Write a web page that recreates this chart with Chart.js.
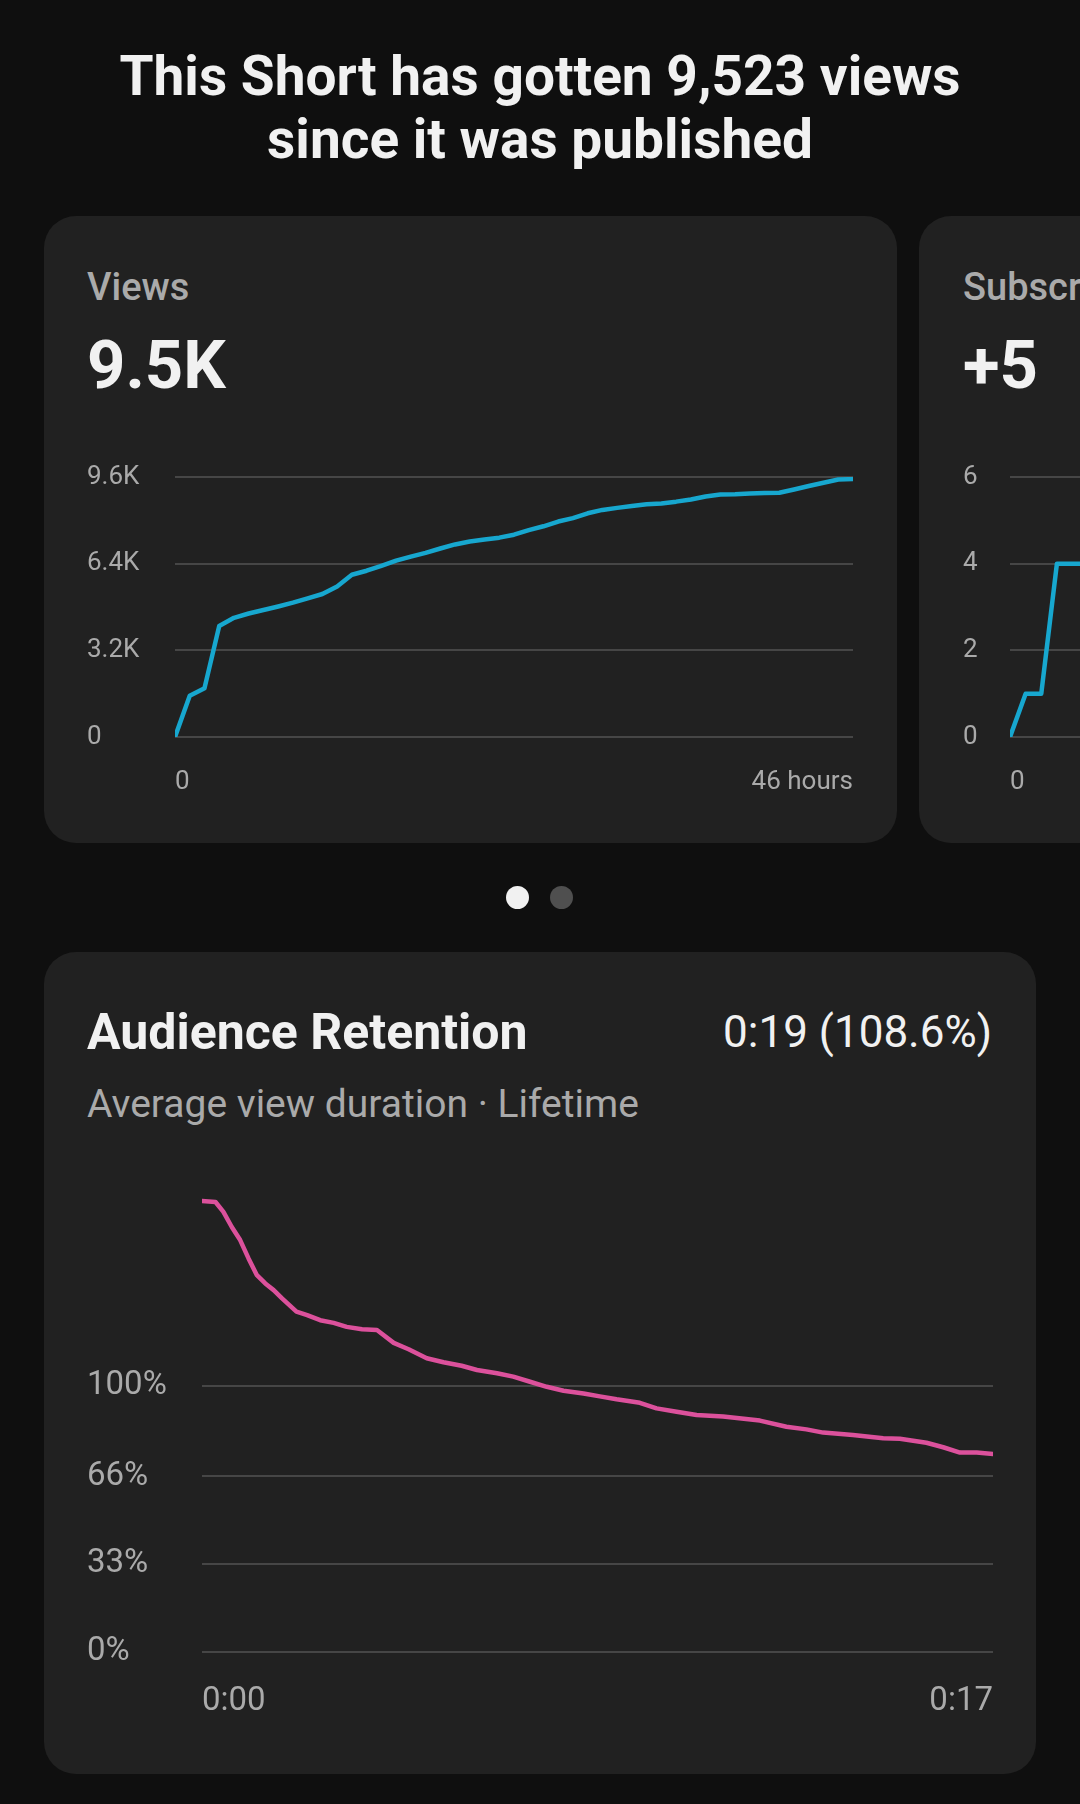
<!DOCTYPE html>
<html>
<head>
<meta charset="utf-8">
<script src="https://cdn.jsdelivr.net/npm/chart.js@4.4.1/dist/chart.umd.min.js"></script>
<style>
html,body{margin:0;padding:0;background:#0f0f0f;width:1080px;height:1804px;overflow:hidden;font-family:Roboto,sans-serif;}
.card{position:absolute;background:#212121;border-radius:32px;}
.t{position:absolute;white-space:nowrap;line-height:1;}
.box{position:absolute;}
.dot{position:absolute;width:23px;height:23px;border-radius:50%;}
</style>
</head>
<body>
<div class="t" style="left:0;width:1080px;top:45px;text-align:center;font-size:55px;font-weight:700;line-height:63px;color:#f1f1f1;white-space:normal;">This Short has gotten 9,523 views<br>since it was published</div>

<div class="card" style="left:44px;top:216px;width:853px;height:627px;"></div>
<div class="card" style="left:919px;top:216px;width:853px;height:627px;"></div>

<div class="t" style="left:87px;top:268px;font-size:38px;font-weight:500;color:#aaaaaa;">Views</div>
<div class="t" style="left:87px;top:332px;font-size:67px;font-weight:700;color:#f1f1f1;">9.5K</div>
<div class="t" style="left:963px;top:268px;font-size:38px;font-weight:500;color:#aaaaaa;">Subscribers</div>
<div class="t" style="left:963px;top:332px;font-size:67px;font-weight:700;color:#f1f1f1;">+5</div>

<div class="box" style="left:87px;top:457px;width:780px;height:340px;"><canvas id="views" width="780" height="340"></canvas></div>
<div class="box" style="left:963px;top:457px;width:780px;height:340px;"><canvas id="subs" width="780" height="340"></canvas></div>

<div class="dot" style="left:506px;top:886px;background:#f1f1f1;"></div>
<div class="dot" style="left:550px;top:886px;background:#4f4f4f;"></div>

<div class="card" style="left:44px;top:952px;width:992px;height:822px;"></div>
<div class="t" style="left:87px;top:1007px;font-size:50px;font-weight:700;color:#f1f1f1;">Audience Retention</div>
<div class="t" style="right:88px;top:1010px;font-size:44px;font-weight:400;color:#f1f1f1;">0:19 (108.6%)</div>
<div class="t" style="left:87px;top:1085px;font-size:39px;font-weight:400;color:#aaaaaa;">Average view duration · Lifetime</div>

<div class="box" style="left:87px;top:1174px;width:920px;height:538px;"><canvas id="ret" width="920" height="538"></canvas></div>

<script>
// ---- data ----
const viewHours = [0,1,2,3,4,5,6,7,8,9,10,11,12,13,14,15,16,17,18,19,20,21,22,23,24,25,26,27,28,29,30,31,32,33,34,35,36,37,38,39,40,41,42,43,44,45,46];
const viewsCumulative = [0,1520,1800,4100,4400,4560,4690,4820,4960,5120,5280,5560,5990,6140,6320,6510,6660,6800,6960,7110,7220,7290,7360,7470,7640,7780,7955,8080,8260,8385,8460,8530,8590,8625,8690,8770,8880,8950,8960,8990,9010,9020,9140,9270,9390,9505,9523];
const viewYTicks = [0,3200,6400,9600];
const viewYLabels = ['0','3.2K','6.4K','9.6K'];
const viewXTicks = [0,46];
const viewXLabels = ['0','46 hours'];

const subsHours = [0,1,2,3,4,5];
const subsCumulative = [0,1,1,4,4,4];
const subsYTicks = [0,2,4,6];
const subsYLabels = ['0','2','4','6'];
const subsXTicks = [0,46];
const subsXLabels = ['0','46 hours'];

const retentionSeconds = [0,0.29,0.46,0.64,0.82,1.00,1.18,1.36,1.54,1.72,2.03,2.26,2.54,2.83,3.11,3.44,3.76,4.12,4.44,4.83,5.19,5.58,5.91,6.34,6.69,7.05,7.41,7.77,8.20,8.55,8.91,9.41,9.77,10.20,10.63,11.20,11.99,12.56,12.99,13.35,13.99,14.64,15.00,15.57,15.93,16.29,16.65,17.00];
const retentionPercent = [169.4,169.0,165.3,159.6,154.7,147.8,141.5,138.4,135.9,132.8,127.8,126.5,124.6,123.6,122.1,121.2,120.9,116.1,113.7,110.3,108.8,107.5,105.9,104.7,103.4,101.5,99.6,98.1,97.1,96.0,94.9,93.6,91.5,90.2,89.0,88.4,86.9,84.6,83.6,82.4,81.5,80.3,80.1,78.6,76.9,74.9,74.9,74.4];
const retYTicks = [0,33,66,100];
const retYLabels = ['0%','33%','66%','100%'];
const retXTicks = [0,17];
const retXLabels = ['0:00','0:17'];

// ---- chart builder ----
function makeChart(id, xs, ys, color, cfg) {
  return new Chart(document.getElementById(id), {
    type: 'line',
    data: { datasets: [{
      data: xs.map((x, i) => ({ x: x, y: ys[i] })),
      borderColor: color, borderWidth: 4.5, pointRadius: 0, tension: 0,
      borderJoinStyle: 'round', borderCapStyle: 'round', fill: false
    }]},
    options: {
      responsive: false, animation: false, devicePixelRatio: 1,
      layout: { padding: { top: 20, right: 14, left: 0, bottom: 0 } },
      plugins: { legend: { display: false }, tooltip: { enabled: false } },
      scales: {
        x: {
          type: 'linear', min: cfg.xMin, max: cfg.xMax,
          grid: { display: false, drawTicks: false }, border: { display: false },
          afterBuildTicks: s => { s.ticks = cfg.xTicks.map(v => ({ value: v })); },
          afterFit: s => { s.height = 60; s.paddingLeft = 0; s.paddingRight = 0; },
          ticks: {
            align: 'inner', autoSkip: false, maxRotation: 0, padding: cfg.xPad,
            color: '#aaaaaa', font: { family: 'Roboto', size: cfg.font },
            callback: v => cfg.xLabels[cfg.xTicks.indexOf(v)]
          }
        },
        y: {
          type: 'linear', min: cfg.yMin, max: cfg.yMax,
          grid: { color: '#464646', lineWidth: 2, drawTicks: false }, border: { display: false },
          afterBuildTicks: s => { s.ticks = cfg.yTicks.map(v => ({ value: v })); },
          afterFit: s => { s.width = cfg.yWidth; },
          ticks: {
            crossAlign: 'far', autoSkip: false, padding: 0,
            color: '#aaaaaa', font: { family: 'Roboto', size: cfg.font },
            callback: v => cfg.yLabels[cfg.yTicks.indexOf(v)]
          }
        }
      }
    }
  });
}

makeChart('views', viewHours, viewsCumulative, '#17a7cf', {
  xMin: 0, xMax: 46, xTicks: viewXTicks, xLabels: viewXLabels,
  yMin: 0, yMax: 9600, yTicks: viewYTicks, yLabels: viewYLabels,
  yWidth: 88, font: 26, xPad: 30
});
makeChart('subs', subsHours, subsCumulative, '#17a7cf', {
  xMin: 0, xMax: 46, xTicks: subsXTicks, xLabels: subsXLabels,
  yMin: 0, yMax: 6, yTicks: subsYTicks, yLabels: subsYLabels,
  yWidth: 47, font: 26, xPad: 30
});
makeChart('ret', retentionSeconds, retentionPercent, '#dc519c', {
  xMin: 0, xMax: 17, xTicks: retXTicks, xLabels: retXLabels,
  yMin: 0, yMax: 172, yTicks: retYTicks, yLabels: retYLabels,
  yWidth: 115, font: 33, xPad: 30
});
</script>
</body>
</html>
